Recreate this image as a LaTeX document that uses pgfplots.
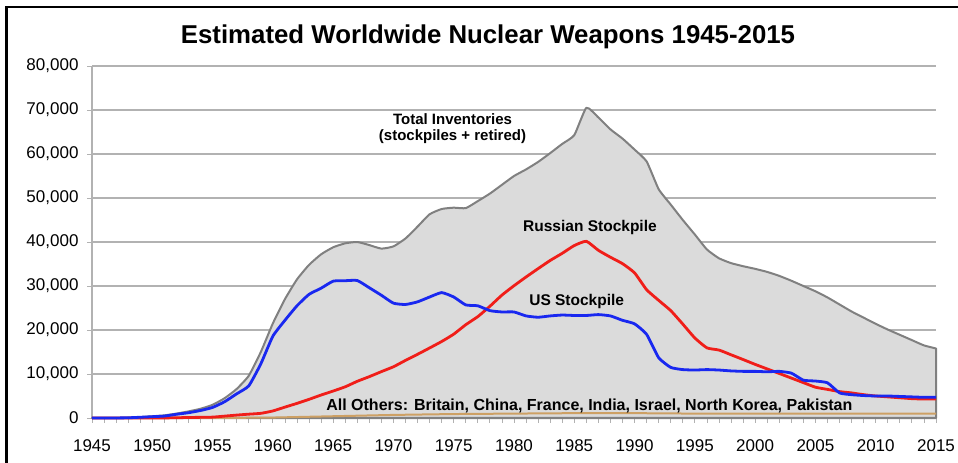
\documentclass[border=0pt]{standalone}
\usepackage{fontspec}
\setmainfont{Liberation Sans}
\usepackage{pgfplots}
\pgfplotsset{compat=1.18}
\usepackage{pgfplotstable}
\definecolor{fillgray}{RGB}{219,219,219}
\definecolor{edgegray}{RGB}{128,128,128}
\definecolor{gridgray}{RGB}{178,178,178}
\definecolor{usblue}{RGB}{25,40,240}
\definecolor{rured}{RGB}{240,30,25}
\definecolor{othtan}{RGB}{205,160,100}

\pgfplotstableread{
year total
1945 0
1946 10
1947 15
1948 60
1949 200
1950 400
1951 600
1952 1000
1953 1500
1954 2100
1955 3000
1956 4500
1957 6600
1958 9600
1959 15000
1960 21500
1961 27000
1962 31500
1963 34800
1964 37200
1965 38800
1966 39700
1967 40000
1968 39300
1969 38500
1970 39000
1971 40800
1972 43500
1973 46300
1974 47500
1975 47800
1976 47700
1977 49300
1978 51000
1979 53000
1980 55000
1981 56500
1982 58200
1983 60200
1984 62300
1985 64300
1986 70500
1987 68300
1988 65600
1989 63500
1990 61000
1991 58300
1992 52000
1993 48500
1994 45000
1995 41700
1996 38300
1997 36300
1998 35200
1999 34500
2000 33900
2001 33200
2002 32300
2003 31200
2004 30000
2005 28800
2006 27400
2007 25800
2008 24200
2009 22800
2010 21400
2011 20100
2012 18900
2013 17700
2014 16500
2015 15800
}\totaltab

\pgfplotstableread{
year us
1945 2
1946 9
1947 13
1948 50
1949 170
1950 300
1951 440
1952 840
1953 1200
1954 1700
1955 2400
1956 3700
1957 5500
1958 7300
1959 12300
1960 18600
1961 22200
1962 25500
1963 28100
1964 29500
1965 31100
1966 31200
1967 31250
1968 29600
1969 27900
1970 26100
1971 25800
1972 26400
1973 27500
1974 28500
1975 27500
1976 25700
1977 25500
1978 24400
1979 24100
1980 24100
1981 23200
1982 22900
1983 23200
1984 23400
1985 23300
1986 23300
1987 23500
1988 23200
1989 22200
1990 21400
1991 19000
1992 13700
1993 11500
1994 11000
1995 10900
1996 11000
1997 10900
1998 10700
1999 10600
2000 10600
2001 10500
2002 10600
2003 10200
2004 8600
2005 8400
2006 8000
2007 5700
2008 5300
2009 5100
2010 5000
2011 5000
2012 4900
2013 4800
2014 4700
2015 4700
}\ustab

\pgfplotstableread{
year ru
1945 0
1948 0
1949 1
1950 5
1951 25
1952 50
1953 120
1954 150
1955 200
1956 426
1957 660
1958 869
1959 1060
1960 1605
1961 2471
1962 3322
1963 4238
1964 5221
1965 6129
1966 7089
1967 8339
1968 9399
1969 10538
1970 11643
1971 13092
1972 14478
1973 15915
1974 17385
1975 19055
1976 21205
1977 23044
1978 25393
1979 27935
1980 30062
1981 32049
1982 33952
1983 35804
1984 37431
1985 39197
1986 40159
1987 38107
1988 36538
1989 35078
1990 32980
1991 29154
1992 26734
1993 24403
1994 21339
1995 18179
1996 15942
1997 15442
1998 14368
1999 13289
2000 12188
2001 11152
2002 10114
2003 9076
2004 8038
2005 7000
2006 6500
2007 6000
2008 5700
2009 5300
2010 5000
2011 4800
2012 4600
2013 4400
2014 4300
2015 4300
}\rutab

\pgfplotstableread{
year oth
1952 0
1955 20
1958 60
1960 100
1965 400
1970 700
1975 900
1980 1000
1985 1100
1990 1100
1995 1000
2000 1000
2005 1000
2010 1000
2015 1000
}\othtab

\begin{document}
\begin{tikzpicture}
\useasboundingbox (0,0) rectangle (958bp,463bp);
\begin{axis}[
  at={(92bp,45bp)}, anchor=south west,
  scale only axis, width=844bp, height=352bp,
  xmin=1945, xmax=2015, ymin=0, ymax=80000,
  axis x line=bottom, axis y line=left,
  axis line style={draw=gridgray, line width=1.2bp, -},
  xtick={1945,1950,...,2015}, minor x tick num=4,
  ytick={0,10000,...,80000},
  tick align=outside, major tick length=5bp, minor tick length=5bp,
  tick style={draw=gridgray, line width=0.8bp},
  ymajorgrids, major grid style={draw=gridgray, line width=1.2bp},
  scaled y ticks=false,
  /pgf/number format/assume math mode=true,
  ticklabel style={font=\fontsize{17bp}{20bp}\selectfont, text=black},
  xticklabel style={/pgf/number format/1000 sep={}, yshift=-13bp},
  yticklabel style={/pgf/number format/1000 sep={,}, xshift=-5bp},
  clip=false,
]
\addplot[fill=fillgray, draw=edgegray, line width=2bp, line join=round, smooth, tension=0.3] table[x=year, y=total] {\totaltab} \closedcycle;
\addplot[othtan, line width=2bp] table[x=year, y=oth] {\othtab};
\addplot[rured, line width=2.8bp, line join=round, smooth, tension=0.3] table[x=year, y=ru] {\rutab};
\addplot[usblue, line width=2.8bp, line join=round, smooth, tension=0.3] table[x=year, y=us] {\ustab};

\node[font=\fontsize{15bp}{16.5bp}\selectfont\bfseries, align=center] at (axis cs:1974.9,65800) {Total Inventories\\(stockpiles + retired)};
\node[font=\fontsize{15.5bp}{18bp}\selectfont\bfseries] at (axis cs:1986.3,43200) {Russian Stockpile};
\node[font=\fontsize{15.5bp}{18bp}\selectfont\bfseries] at (axis cs:1985.2,26500) {US Stockpile};
\node[font=\fontsize{16bp}{18bp}\selectfont\bfseries] at (axis cs:1986.25,2700) {All Others: Britain, China, France, India, Israel, North Korea, Pakistan};
\end{axis}
\node[anchor=base, font=\fontsize{25.8bp}{30bp}\selectfont\bfseries] at (488bp,419bp) {Estimated Worldwide Nuclear Weapons 1945-2015};
\draw[black, line width=2.5bp] (6.5bp,0) -- (6.5bp,456bp) -- (958bp,456bp);
\end{tikzpicture}
\end{document}
